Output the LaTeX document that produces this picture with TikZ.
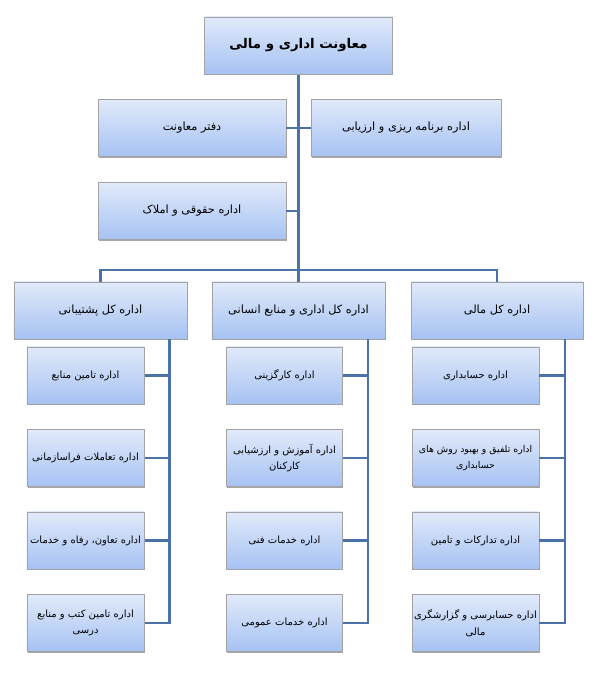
\documentclass[tikz,border=0pt]{standalone}
\usepackage{fontspec}
\usepackage{tikz}
\usetikzlibrary{shadows}
\newfontfamily\farsifont[Script=Arabic]{DejaVu Sans}
\TeXXeTstate=1
\newcommand{\fatext}[1]{\beginR #1\endR}
\definecolor{boxtop}{HTML}{E1EAFA}
\definecolor{boxbot}{HTML}{A6C2F3}
\definecolor{boxline}{HTML}{A3A3A3}
\definecolor{linkblue}{HTML}{4A72A6}

\begin{document}
\begin{tikzpicture}[x=0.75pt,y=-0.75pt,
    every node/.style={font=\farsifont\fontsize{7.5}{12.5}\selectfont, align=center},
    unit/.style={draw=boxline, line width=0.5pt, top color=boxtop, bottom color=boxbot, minimum height=43pt, inner sep=1pt,
      drop shadow={shadow xshift=0.5pt, shadow yshift=-0.9pt, opacity=0.35, fill=black}},
    bigunit/.style={unit, font=\farsifont\fontsize{8.5}{12.5}\selectfont},
    link/.style={draw=linkblue, line width=1.7pt}]
    \useasboundingbox (0,0) rectangle (595,679);

    \node[unit, minimum width=141pt, font=\farsifont\bfseries\fontsize{10}{12}\selectfont] (vp) at (298.5,45.5) {\fatext{معاونت اداری و مالی}};
    \node[bigunit, minimum width=141pt] (office) at (192,128) {\fatext{دفتر معاونت}};
    \node[bigunit, minimum width=142.5pt] (plan) at (406,128) {\fatext{اداره برنامه ریزی و ارزیابی}};
    \node[bigunit, minimum width=141pt] (legal) at (192,211) {\fatext{اداره حقوقی و املاک}};

    \node[bigunit, minimum width=130pt] (h1) at (100.5,310.5) {\fatext{اداره کل پشتیبانی}};
    \node[bigunit, minimum width=130pt] (h2) at (298.5,310.5) {\fatext{اداره کل اداری و منابع انسانی}};
    \node[bigunit, minimum width=129pt] (h3) at (497,310.5) {\fatext{اداره کل مالی}};

    \node[unit, minimum width=88pt] (s1) at (85.5,375.5) {\fatext{اداره تامین منابع}};
    \node[unit, minimum width=88pt] (s2) at (85.5,458) {\fatext{اداره تعاملات فراسازمانی}};
    \node[unit, minimum width=88pt] (s3) at (85.5,540.5) {\fatext{اداره تعاون، رفاه و خدمات}};
    \node[unit, minimum width=88pt] (s4) at (85.5,623) {\fatext{اداره تامین کتب و منابع}\\\fatext{درسی}};

    \node[unit, minimum width=87pt] (r1) at (284.5,375.5) {\fatext{اداره کارگزینی}};
    \node[unit, minimum width=87pt] (r2) at (284.5,458) {\fatext{اداره آموزش و ارزشیابی}\\\fatext{کارکنان}};
    \node[unit, minimum width=87pt] (r3) at (284.5,540.5) {\fatext{اداره خدمات فنی}};
    \node[unit, minimum width=87pt] (r4) at (284.5,623) {\fatext{اداره خدمات عمومی}};

    \node[unit, minimum width=95pt] (f1) at (475.5,375.5) {\fatext{اداره حسابداری}};
    \node[unit, minimum width=95pt, font=\farsifont\fontsize{7}{12.5}\selectfont] (f2) at (475.5,458) {\fatext{اداره تلفیق و بهبود روش های}\\\fatext{حسابداری}};
    \node[unit, minimum width=95pt] (f3) at (475.5,540.5) {\fatext{اداره تدارکات و تامین}};
    \node[unit, minimum width=95pt] (f4) at (475.5,623) {\fatext{اداره حسابرسی و گزارشگری}\\\fatext{مالی}};

    \coordinate (bus) at (298.5,270);
    \coordinate (sspine) at (169.5,339);
    \coordinate (rspine) at (368,339);
    \coordinate (fspine) at (565,339);

    \draw[link] (vp.south) -- (h2.north);
    \draw[link] (office.east) -- (plan.west);
    \draw[link] (legal.east) -- (legal.east -| vp.south);
    \draw[link] (h1.north) -- (h1.north |- bus) -- (h3.north |- bus) -- (h3.north);

    \draw[link] (sspine) |- (s4.east);
    \draw[link] (rspine) |- (r4.east);
    \draw[link] (fspine) |- (f4.east);
    \foreach \i in {1,2,3} {
      \draw[link] (s\i.east) -- (s\i.east -| sspine);
      \draw[link] (r\i.east) -- (r\i.east -| rspine);
      \draw[link] (f\i.east) -- (f\i.east -| fspine);
    }
\end{tikzpicture}
\end{document}
